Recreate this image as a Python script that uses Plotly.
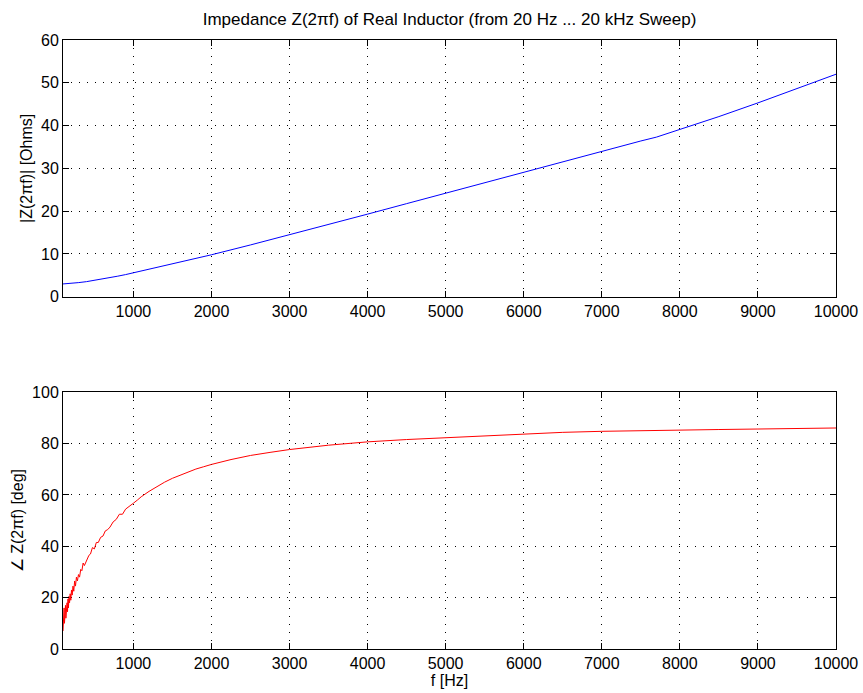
import plotly.graph_objects as go
from plotly.subplots import make_subplots

# Magnitude |Z| [Ohms]
mag_freq = [98, 150, 200, 250, 300, 400, 500, 600, 700, 800, 900, 1000, 1250, 1500, 1750,
            2000, 2500, 3000, 3500, 4000, 4500, 5000, 5500, 6000, 6500, 7000, 7500, 7700,
            7800, 8000, 8500, 9000, 9500, 10000]
mag_ohms = [2.98, 3.02, 3.10, 3.18, 3.30, 3.52, 3.80, 4.10, 4.44, 4.80, 5.17, 5.58, 6.60, 7.66, 8.75,
            9.80, 12.1, 14.45, 16.85, 19.3, 21.75, 24.2, 26.7, 29.2, 31.65, 34.1, 36.4, 37.3,
            37.9, 39.1, 42.1, 45.3, 48.6, 52.0]

# Phase angle [deg]
ph_freq = [98, 103, 108, 112, 117, 121, 126, 130, 135, 140, 145, 150, 156, 162, 168, 175, 182,
           190, 198, 207, 216, 226, 236, 247, 258, 270, 283, 296, 310, 325, 340, 356, 372,
           390, 410, 430, 450, 475, 500, 525, 550, 580, 610, 640, 670, 700, 740, 780, 820,
           860, 900, 950, 1000, 1050, 1100, 1200, 1300, 1400, 1500, 1600, 1700, 1800, 1900,
           2000, 2250, 2500, 2750, 3000, 3500, 4000, 4500, 5000, 5500, 6000, 6500, 7000, 7500,
           8000, 8500, 9000, 9500, 10000]
ph_deg = [7.0, 14.5, 8.5, 16.0, 10.0, 15.5, 11.5, 17.0, 12.0, 16.5, 13.0, 18.0, 14.5, 19.5,
          16.0, 20.5, 18.0, 21.5, 19.0, 23.0, 21.0, 24.5, 22.5, 26.5, 24.5, 28.0, 26.5, 29.0,
          28.0, 31.0, 30.5, 33.5, 32.5, 34.0, 35.5, 36.5, 37.0, 39.5, 39.0, 41.5, 41.5, 43.5,
          44.0, 46.0, 46.5, 47.5, 49.5, 50.5, 52.5, 52.5, 54.5, 55.5, 56.8, 58.0, 59.3, 61.4,
          63.3, 65.0, 66.5, 67.8, 69.0, 70.1, 71.0, 71.9, 73.8, 75.4, 76.6, 77.7, 79.4, 80.7,
          81.6, 82.3, 83.2, 83.9, 84.4, 84.8, 85.1, 85.3, 85.5, 85.7, 85.9, 86.1]

x_ticks = [1000, 2000, 3000, 4000, 5000, 6000, 7000, 8000, 9000, 10000]

FONT = "Liberation Sans, Arial, Helvetica, sans-serif"

fig = make_subplots(rows=2, cols=1, vertical_spacing=0.157)

fig.add_trace(go.Scatter(x=mag_freq, y=mag_ohms, mode="lines",
                         line=dict(color="#0000ff", width=1), showlegend=False), row=1, col=1)
fig.add_trace(go.Scatter(x=ph_freq, y=ph_deg, mode="lines",
                         line=dict(color="#ff0000", width=1), showlegend=False), row=2, col=1)

axis_common = dict(
    showline=True, linecolor="black", linewidth=1, mirror="ticks",
    ticks="inside", ticklen=6, tickcolor="black", tickwidth=1,
    showgrid=True, gridcolor="black", gridwidth=1, griddash="1px,7px",
    zeroline=False, automargin=False,
    tickfont=dict(family=FONT, size=16, color="black"),
)

for r in (1, 2):
    fig.update_xaxes(range=[98, 10000], tickvals=x_ticks, ticktext=[str(v) for v in x_ticks],
                     **axis_common, row=r, col=1)

fig.update_yaxes(range=[0, 60], dtick=10, **axis_common, row=1, col=1,
                 title=dict(text="|Z(2\u03c0f)| [Ohms]", standoff=4,
                            font=dict(family=FONT, size=16, color="black")))
fig.update_yaxes(range=[0, 100], dtick=20, **axis_common, row=2, col=1,
                 title=dict(text="\u2220 Z(2\u03c0f) [deg]", standoff=4,
                            font=dict(family=FONT, size=16, color="black")))
fig.update_xaxes(row=2, col=1,
                 title=dict(text="f [Hz]", standoff=0,
                            font=dict(family=FONT, size=16, color="black")))

fig.update_layout(
    width=863, height=693,
    margin=dict(l=63, r=27, t=40, b=44),
    paper_bgcolor="white", plot_bgcolor="white",
    title=dict(text="Impedance Z(2\u03c0f) of Real Inductor (from 20 Hz ... 20 kHz Sweep)",
               x=449.5 / 863, xanchor="center",
               y=1 - 19 / 693, yanchor="middle",
               font=dict(family=FONT, size=17, color="black")),
    font=dict(family=FONT, color="black"),
)

fig.write_html("out.html", config={"displayModeBar": False},
               post_script="document.body.style.margin='0';")
